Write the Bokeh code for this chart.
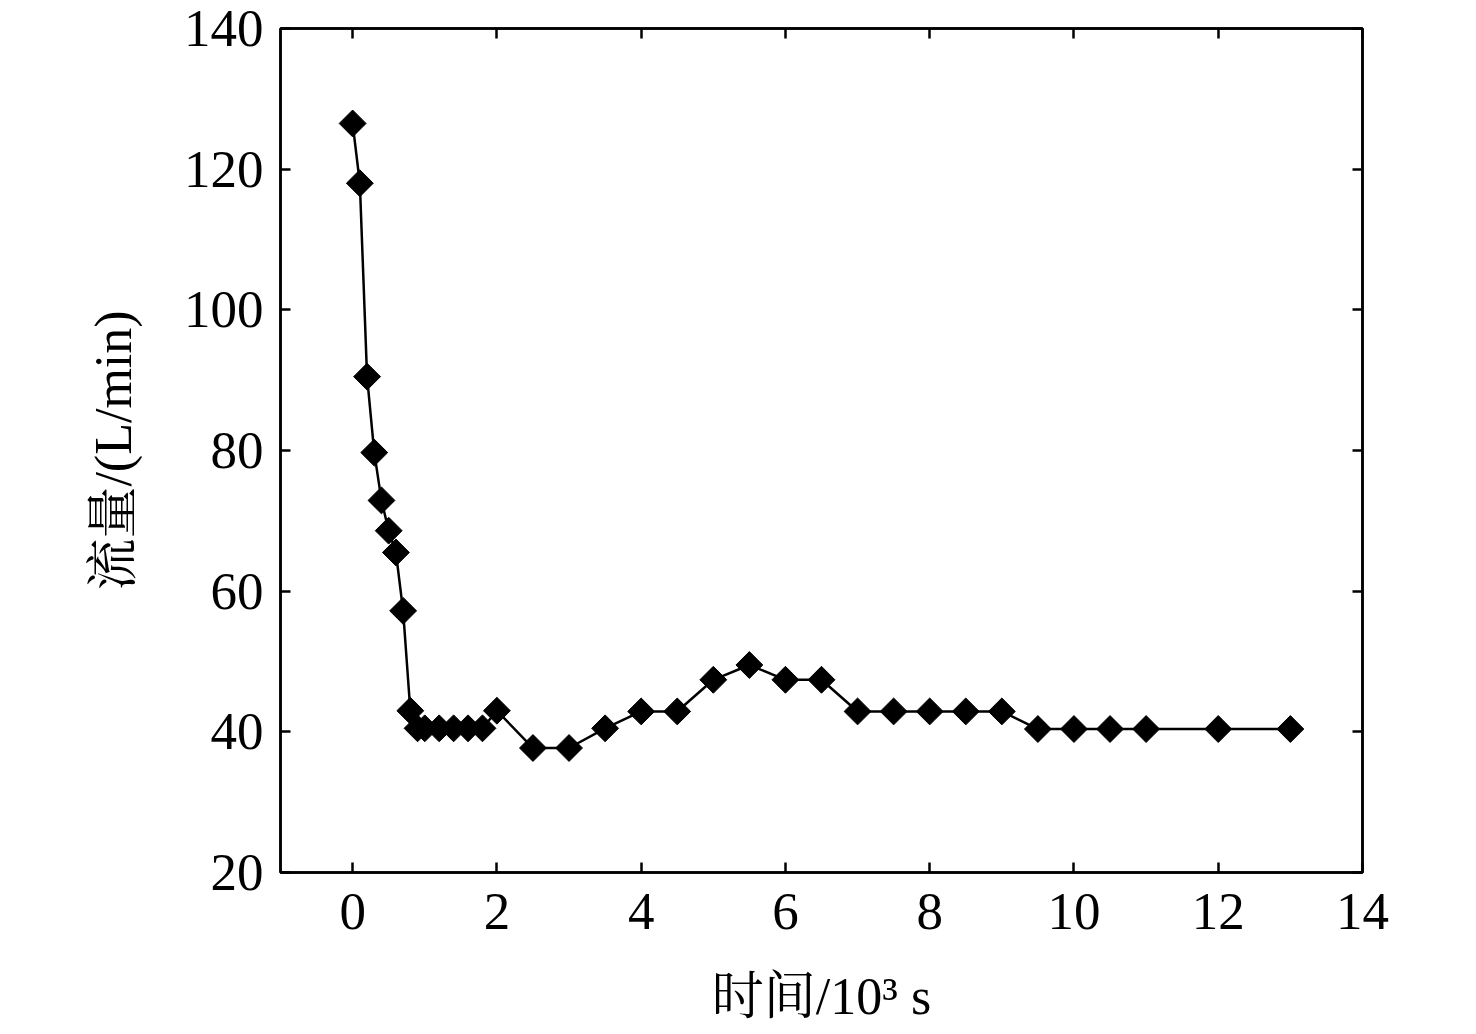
import math
from bokeh.plotting import figure
from bokeh.models import LinearAxis, FixedTicker, CustomJSTickFormatter, ColumnDataSource
from bokeh.embed import file_html
from bokeh.resources import INLINE

time_k_s = [0.0, 0.1, 0.2, 0.3, 0.4, 0.5, 0.6, 0.7, 0.8, 0.9, 1.0, 1.2, 1.4, 1.6, 1.8,
            2.0, 2.5, 3.0, 3.5, 4.0, 4.5, 5.0, 5.5, 6.0, 6.5, 7.0, 7.5, 8.0, 8.5, 9.0,
            9.5, 10.0, 10.5, 11.0, 12.0, 13.0]
flow_l_min = [126.5, 118.0, 90.5, 79.7, 72.9, 68.6, 65.5, 57.2, 43.0, 40.5, 40.5, 40.5, 40.5, 40.5, 40.5,
              43.0, 37.7, 37.7, 40.5, 42.9, 42.9, 47.4, 49.5, 47.4, 47.4, 42.9, 42.9, 42.9, 42.9, 42.9,
              40.4, 40.4, 40.4, 40.4, 40.4, 40.4]
x_ticks = [0, 2, 4, 6, 8, 10, 12, 14]
y_ticks = [20, 40, 60, 80, 100, 120, 140]
x_label = "时间/10³ s"
y_label = "流量/(L/min)"

FONT = "'Liberation Serif', 'Times New Roman', 'Noto Serif CJK SC', 'Noto Sans CJK SC', serif"

src = ColumnDataSource(data=dict(x=time_k_s, y=flow_l_min))

p = figure(x_range=(-1, 14), y_range=(20, 140),
           frame_width=1082, frame_height=844,
           min_border_left=280, min_border_right=100, min_border_top=28, min_border_bottom=10,
           output_backend="svg", toolbar_location=None, x_axis_location=None, y_axis_location=None)
p.grid.visible = False
p.outline_line_color = "black"
p.outline_line_width = 2.5
p.background_fill_color = "white"
p.border_fill_color = "white"

def style(ax, ticks, labels=True):
    ax.ticker = FixedTicker(ticks=ticks)
    ax.axis_line_color = "black"
    ax.axis_line_width = 2.5
    ax.major_tick_line_color = "black"
    ax.major_tick_line_width = 2.5
    ax.major_tick_in = 10
    ax.major_tick_out = 0
    ax.minor_tick_line_color = None
    ax.major_label_text_font = FONT
    ax.major_label_text_font_size = "53px"
    ax.major_label_text_color = "black"
    ax.axis_label_text_font = FONT
    ax.axis_label_text_font_size = "52px"
    ax.axis_label_text_font_style = "normal"
    ax.axis_label_text_color = "black"
    if not labels:
        ax.formatter = CustomJSTickFormatter(code="return ''")
        ax.major_label_text_font_size = "1px"

xb = LinearAxis(axis_label=x_label)
style(xb, x_ticks)
xb.major_label_standoff = 21
xb.axis_label_standoff = 36
p.add_layout(xb, "below")

yl = LinearAxis(axis_label=y_label)
style(yl, y_ticks)
yl.major_label_standoff = 17
yl.axis_label_standoff = 39
p.add_layout(yl, "left")

xt = LinearAxis()
style(xt, x_ticks, labels=False)
p.add_layout(xt, "above")

yr = LinearAxis()
style(yr, y_ticks, labels=False)
p.add_layout(yr, "right")

p.line("x", "y", source=src, line_color="black", line_width=2.5)
p.scatter("x", "y", source=src, marker="square", size=19, angle=math.pi / 4,
          fill_color="black", line_color="black")

open("out.html", "w").write(file_html(p, INLINE))
